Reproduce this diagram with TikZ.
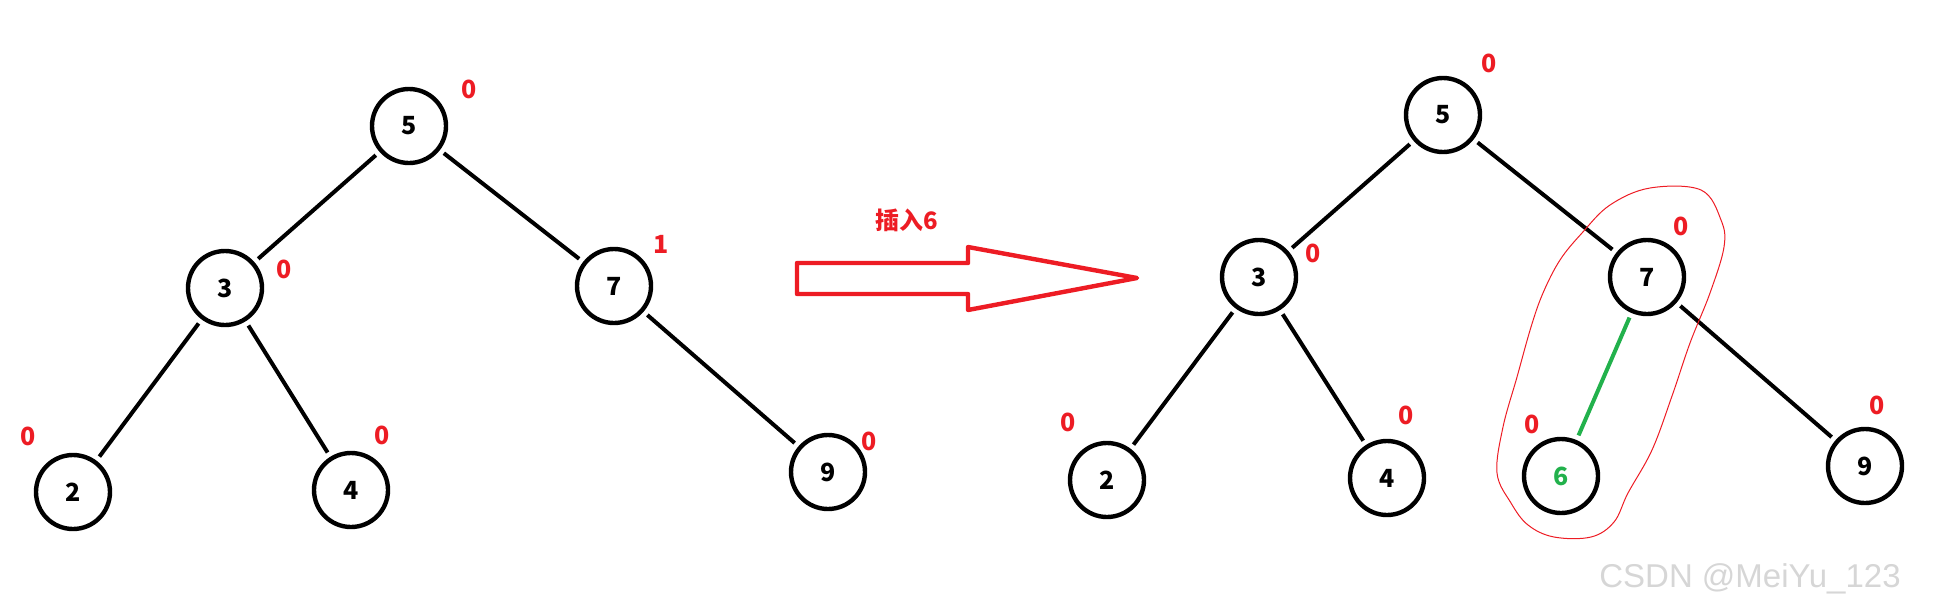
\documentclass[tikz,border=0pt]{standalone}
\usepackage{fontspec}
\setmainfont{Noto Sans CJK SC}
\newfontfamily\wmfont{Liberation Sans}
\definecolor{pred}{RGB}{237,28,36}
\definecolor{pgreen}{RGB}{34,177,76}

\begin{document}
\begin{tikzpicture}[
    x=0.5pt, y=-0.5pt,
    vertex/.style={circle, draw, line width=2.2pt, minimum size=37pt, inner sep=0pt,
        font=\bfseries\fontsize{12.5}{14}\selectfont},
    link/.style={line width=2pt, shorten <=2.5pt, shorten >=2.5pt},
    bal/.style={text=pred, font=\bfseries\fontsize{12.5}{14}\selectfont},
]
\useasboundingbox (0,0) rectangle (1938,611);
% before the insertion
\node[vertex] (l5) at (409,126) {5};
\node[vertex] (l3) at (225,288) {3};
\node[vertex] (l7) at (614,286) {7};
\node[vertex] (l2) at (73,492) {2};
\node[vertex] (l4) at (351,490) {4};
\node[vertex] (l9) at (828,472) {9};
\foreach \a/\b in {l5/l3, l5/l7, l3/l2, l3/l4, l7/l9}{\draw[link] (\a) -- (\b);}
\foreach \n/\x/\y/\t in {lb5/469/89/0, lb3/284/269/0, lb7/661/244/1, lb2/28/436/0, lb4/382/435/0, lb9/869/441/0}{\node[bal] (\n) at (\x,\y) {\t};}
% insert arrow
\draw[pred, line width=2.2pt, line join=round]
   (797,263) -- (968,263) -- (968,247) -- (1137,278) -- (968,310) -- (968,294) -- (797,294) -- cycle;
\node[text=pred, font=\bfseries\fontsize{12}{14}\selectfont] (ins) at (907,220) {插入6};
% after the insertion
\node[vertex] (r5) at (1443,115) {5};
\node[vertex] (r3) at (1259,277) {3};
\node[vertex] (r7) at (1647,277) {7};
\node[vertex] (r2) at (1107,480) {2};
\node[vertex] (r4) at (1387,478) {4};
\node[vertex, text=pgreen] (r6) at (1561,476) {6};
\node[vertex] (r9) at (1865,466) {9};
\foreach \a/\b in {r5/r3, r5/r7, r3/r2, r3/r4, r7/r9}{\draw[link] (\a) -- (\b);}
\draw[link, pgreen] (r7) -- (r6);
\foreach \n/\x/\y/\t in {rb5/1489/63/0, rb3/1313/253/0, rb7/1681/226/0, rb2/1068/422/0, rb4/1406/415/0, rb6/1532/424/0, rb9/1877/405/0}{\node[bal] (\n) at (\x,\y) {\t};}
% ring round 7 and 6
\draw[pred, line width=0.5pt] plot[smooth cycle, tension=0.6] coordinates {
   (1650,188) (1701,190) (1721,220) (1724,247) (1710,293) (1690,343) (1672,396)
   (1652,450) (1628,493) (1614,522) (1591,537) (1554,537) (1528,525) (1511,503)
   (1497,473) (1503,427) (1517,377) (1531,327) (1543,293) (1560,260) (1582,233) (1610,205)};
\node[font=\wmfont\fontsize{16.5}{18}\selectfont, text=black!16] (wm) at (1750,579) {CSDN @MeiYu\_123};
\end{tikzpicture}
\end{document}
